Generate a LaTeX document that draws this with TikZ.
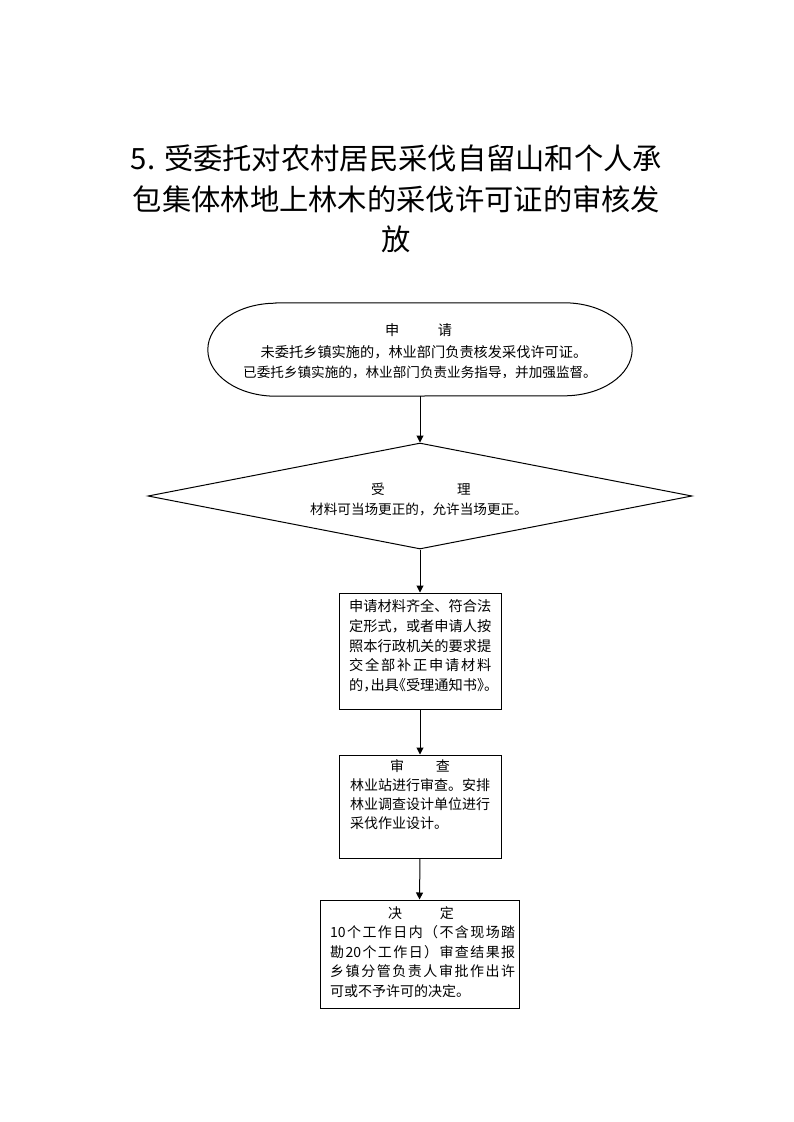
\documentclass[tikz,border=0pt]{standalone}
\usepackage{fontspec}
\newfontfamily\cjk{Noto Sans CJK SC}
\newfontfamily\cjkh[RawFeature=+halt]{Noto Sans CJK SC}
\usetikzlibrary{shapes.geometric,arrows.meta,calc}
\makeatletter
\newcommand\jl[2]{\makebox[#1][s]{\jl@first#2\relax}}
\def\jl@first#1{#1\jl@rest}
\def\jl@rest#1{\ifx#1\relax\else\hfil#1\expandafter\jl@rest\fi}
\makeatother
\def\dA{10}\def\dB{20}
\newcommand\fs[1]{\fontsize{#1}{#1}\selectfont}
\tikzset{
  shapeline/.style={draw=black, line width=1pt},
  boxnode/.style={draw=black, line width=1pt, inner sep=0pt},
  lbl/.style={inner sep=0pt, text height=0.88em, text depth=0.12em, font=\cjk\fs{14}},
  ttl/.style={inner sep=0pt, text height=0.88em, text depth=0.12em, font=\cjk\fs{29.3}},
  arr/.style={-{Triangle[length=7pt,width=7pt]}, line width=1pt},
}
\begin{document}
\begin{tikzpicture}[x=1pt,y=1pt]
\useasboundingbox (0,0) rectangle (793,-1122);
\fill[white] (0,0) rectangle (793,-1122);

% title
\node[ttl] (title1) at (396.5,-166) {5. 受委托对农村居民采伐自留山和个人承};
\node[ttl] (title2) at (396.5,-207) {包集体林地上林木的采伐许可证的审核发};
\node[ttl] (title3) at (396.5,-247) {放};

% shapes
\node[inner sep=0pt, minimum width=424pt, minimum height=93pt] (apply) at (420,-349.5) {};
\draw[shapeline] ($(apply.north west)+(68,0)$) -- ($(apply.north east)+(-68,0)$)
  arc[start angle=90,end angle=-90,x radius=68,y radius=46.5]
  -- ($(apply.south west)+(68,0)$)
  arc[start angle=270,end angle=90,x radius=68,y radius=46.5] -- cycle;
\node[diamond, boxnode, minimum width=544pt, minimum height=106pt] (accept) at (420,-496) {};
\node[boxnode, minimum width=162pt, minimum height=116pt] (notice) at (420,-651) {};
\node[boxnode, minimum width=162pt, minimum height=103pt] (review) at (420,-806.5) {};
\node[boxnode, minimum width=199pt, minimum height=108pt] (decide) at (419.5,-954) {};

% connectors
\draw[arr] (apply.south) -- (accept.north);
\draw[arr] (accept.south) -- (notice.north);
\draw[arr] (notice.south) -- (review.north);
\draw[arr] (review.south) -- (decide.north);

% apply text
\node[lbl, font=\cjk\fs{14.2}] (a1) at (418.5,-332) {\makebox[67pt][s]{申\hfil 请}};
\node[lbl, font=\cjk\fs{14.2}] (a2) at (424,-354) {未委托乡镇实施的，林业部门负责核发采伐许可证。};
\begin{scope}
\clip (200,-360) rectangle (640,-377.5);
\node[lbl, font=\cjk\fs{13.6}] (a3) at (420,-374) {已委托乡镇实施的，林业部门负责业务指导，并加强监督。};
\end{scope}

% accept text
\node[lbl, font=\cjk\fs{13.6}] (b1) at (421,-491) {\makebox[99.6pt][s]{受\hfil 理}};
\node[lbl, font=\cjk\fs{13.6}] (b2) at (419,-511) {材料可当场更正的，允许当场更正。};

% notice text
\node[lbl, font=\cjk\fs{14.2}, anchor=west] (c1) at (349,-608) {\jl{142pt}{申请材料齐全、符合法}};
\node[lbl, font=\cjk\fs{14.2}, anchor=west] (c2) at (349,-628) {\jl{142pt}{定形式，或者申请人按}};
\node[lbl, font=\cjk\fs{14.2}, anchor=west] (c3) at (349,-647.5) {\jl{142pt}{照本行政机关的要求提}};
\node[lbl, font=\cjk\fs{14.2}, anchor=west] (c4) at (349,-667) {\jl{142pt}{交全部补正申请材料}};
\node[lbl, font=\cjkh\fs{14.2}, anchor=west] (c5) at (349,-686.5) {的，出具《受理通知书》。};

% review text
\node[lbl] (d1) at (420,-768) {\makebox[60pt][s]{审\hfil 查}};
\node[lbl, anchor=west] (d2) at (350,-787) {\jl{140pt}{林业站进行审查。安排}};
\node[lbl, anchor=west] (d3) at (350,-806) {\jl{140pt}{林业调查设计单位进行}};
\node[lbl, anchor=west] (d4) at (350,-825) {采伐作业设计。};

% decide text
\node[lbl] (e1) at (421,-914.5) {\makebox[66pt][s]{决\hfil 定}};
\node[lbl, anchor=west] (e2) at (330,-934) {\jl{185pt}{\dA 个工作日内（不含现场踏}};
\node[lbl, anchor=west] (e3) at (330,-953.5) {\jl{185pt}{勘\dB 个工作日）审查结果报}};
\node[lbl, anchor=west] (e4) at (330,-973) {\jl{185pt}{乡镇分管负责人审批作出许}};
\node[lbl, anchor=west] (e5) at (330,-992.5) {可或不予许可的决定。};
\end{tikzpicture}
\end{document}
